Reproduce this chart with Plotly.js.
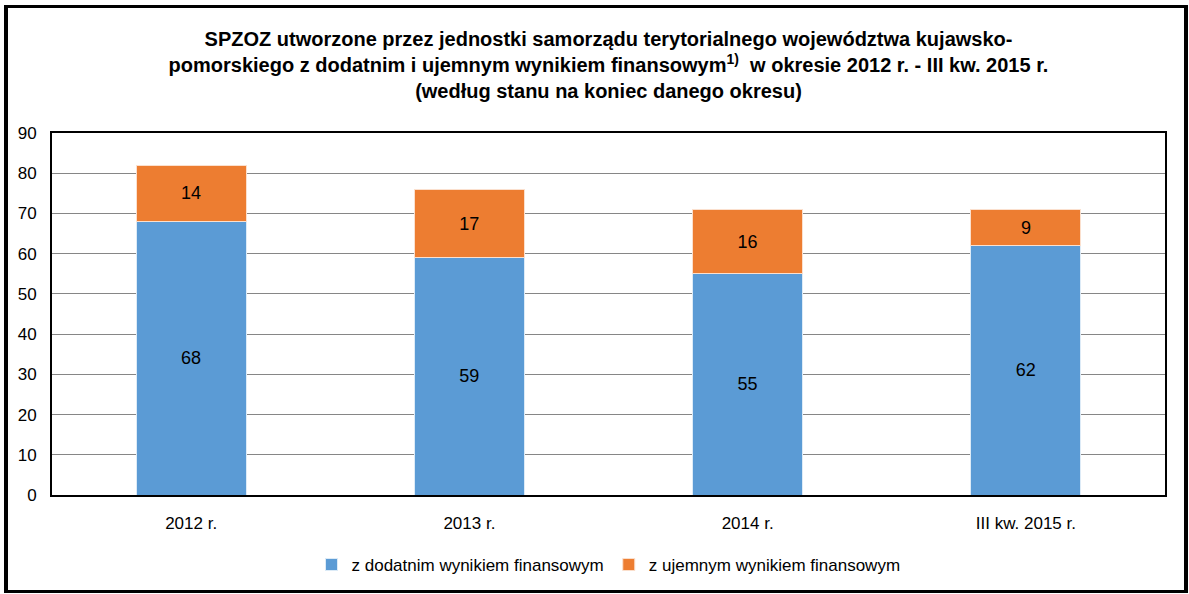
<!DOCTYPE html>
<html>
<head>
<meta charset="utf-8">
<script src="https://cdn.plot.ly/plotly-3.0.1.min.js"></script>
<style>
  html, body { margin: 0; padding: 0; background: #fff; }
  #wrap { position: relative; width: 1189px; height: 594px; }
  #chart { width: 1189px; height: 594px; }
  #frame { position: absolute; left: 4px; top: 5px; width: 1176px; height: 582px;
           border-left: 4px solid #000; border-top: 3px solid #000;
           border-right: 4px solid #000; border-bottom: 3px solid #000; pointer-events: none; }
</style>
</head>
<body>
<div id="wrap">
  <div id="chart"></div>
  <div id="frame"></div>
</div>
<script>
const categories = ["2012 r.", "2013 r.", "2014 r.", "III kw. 2015 r."];
const positiveResult = [68, 59, 55, 62];
const negativeResult = [14, 17, 16, 9];
const seriesNames = ["z dodatnim wynikiem finansowym", "z ujemnym wynikiem finansowym"];
const yTicks = [0, 10, 20, 30, 40, 50, 60, 70, 80, 90];

const FONT = "'Liberation Sans Narrow', 'Arial Narrow', 'Liberation Sans', Arial, sans-serif";

const traces = [
  {
    type: "bar", x: categories, y: positiveResult, name: seriesNames[0],
    marker: { color: "#5B9BD5", line: { color: "#DDEBF7", width: 1 } },
    text: positiveResult.map(String), textposition: "inside", insidetextanchor: "middle",
    textfont: { family: FONT, size: 18, color: "#000" }, width: 0.395, hoverinfo: "y+name"
  },
  {
    type: "bar", x: categories, y: negativeResult, name: seriesNames[1],
    marker: { color: "#ED7D31", line: { color: "#FBE0CE", width: 1 } },
    text: negativeResult.map(String), textposition: "inside", insidetextanchor: "middle",
    textfont: { family: FONT, size: 18, color: "#000" }, width: 0.395, hoverinfo: "y+name"
  }
];

const layout = {
  width: 1189, height: 594,
  margin: { l: 52, r: 24, t: 133, b: 98 },
  paper_bgcolor: "#fff", plot_bgcolor: "#fff",
  barmode: "stack",
  font: { family: FONT, size: 16, color: "#000" },
  title: {
    text: "<b>SPZOZ utworzone przez jednostki samorządu terytorialnego województwa kujawsko-<br>pomorskiego z dodatnim i ujemnym wynikiem finansowym<sup>1)</sup>  w okresie 2012 r. - III kw. 2015 r.<br>(według stanu na koniec danego okresu)</b>",
    font: { family: FONT, size: 20, color: "#000" },
    x: 0.5, xref: "paper", xanchor: "center",
    y: 0.922, yref: "container", yanchor: "top", pad: { t: 0 }
  },
  xaxis: {
    type: "category", showline: true, mirror: true, linecolor: "#000", linewidth: 2,
    ticks: "", ticklabelstandoff: 12, tickfont: { family: FONT, size: 17, color: "#000" }, showgrid: false
  },
  yaxis: {
    range: [0, 90], tickvals: yTicks, ticktext: yTicks.map(String),
    showline: true, mirror: true, linecolor: "#000", linewidth: 2,
    gridcolor: "#868686", gridwidth: 1, ticks: "", ticklabelstandoff: 10,
    tickfont: { family: FONT, size: 17, color: "#000" }, zeroline: false
  },
  showlegend: true,
  legend: {
    orientation: "h", x: 0.5, xanchor: "center", y: -0.19, yanchor: "middle",
    font: { family: FONT, size: 17, color: "#000" }, traceorder: "normal"
  },
  bargap: 0.6
};

Plotly.newPlot("chart", traces, layout, { displayModeBar: false, staticPlot: true });
</script>
</body>
</html>
